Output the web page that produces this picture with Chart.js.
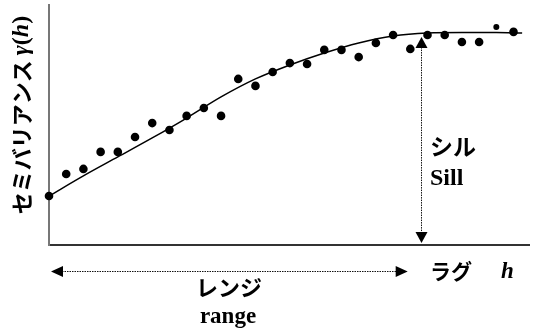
<!DOCTYPE html>
<html>
<head>
<meta charset="utf-8">
<script src="https://cdn.jsdelivr.net/npm/chart.js@4.4.0/dist/chart.umd.min.js"></script>
<style>
  html, body { margin: 0; padding: 0; background: #fff; }
  #wrap { width: 534px; height: 333px; }
</style>
</head>
<body>
<div id="wrap"><canvas id="chart" width="534" height="333"></canvas></div>
<script>
// experimental semivariogram (lag index -> semivariance)
const lags = [0, 1, 2, 3, 4, 5, 6, 7, 8, 9, 10, 11, 12, 13, 14, 15, 16, 17, 18, 19, 20, 21, 22, 23, 24, 25, 26, 27];
const gamma = [2.04, 2.96, 3.17, 3.88, 3.88, 4.5, 5.08, 4.79, 5.38, 5.71, 5.38, 6.92, 6.63, 7.21, 7.58, 7.54,
               8.13, 8.13, 7.83, 8.42, 8.75, 8.17, 8.75, 8.75, 8.46, 8.46, 9.08, 8.88];

// fitted model curve
const modelLags = [0, 2, 4, 6, 8, 10, 12, 14, 16, 18, 20, 22, 24, 26, 27.5];
const modelGamma = [2.04, 2.88, 3.67, 4.46, 5.29, 6.17, 6.92, 7.5, 8.0, 8.42, 8.71, 8.83, 8.85, 8.85, 8.83];

// annotation values
const sillValue = 8.83;
const sillLag = 21.6;
const rangeLag = 20.85;

const ctx = document.getElementById('chart').getContext('2d');

const JP = '"Noto Sans CJK JP", "Noto Sans CJK SC", sans-serif';
const SERIF = '"Liberation Serif", "DejaVu Serif", serif';

function arrowHead(c, x, y, dir, w, h) {
    // tip at (x, y)
    c.beginPath();
    if (dir === 'up') {
        c.moveTo(x, y); c.lineTo(x - w / 2, y + h); c.lineTo(x + w / 2, y + h);
    } else if (dir === 'down') {
        c.moveTo(x, y); c.lineTo(x - w / 2, y - h); c.lineTo(x + w / 2, y - h);
    } else if (dir === 'left') {
        c.moveTo(x, y); c.lineTo(x + h, y - w / 2); c.lineTo(x + h, y + w / 2);
    } else {
        c.moveTo(x, y); c.lineTo(x - h, y - w / 2); c.lineTo(x - h, y + w / 2);
    }
    c.closePath();
    c.fill();
}

function dotted(c, x1, y1, x2, y2) {
    c.save();
    c.strokeStyle = '#111';
    c.lineWidth = 1;
    c.setLineDash([1.5, 1]);
    c.beginPath();
    c.moveTo(x1, y1);
    c.lineTo(x2, y2);
    c.stroke();
    c.restore();
}

const annotations = {
    id: 'annotations',
    afterDraw(chart) {
        const c = chart.ctx;
        const xs = chart.scales.x, ys = chart.scales.y;
        const area = chart.chartArea;
        c.save();
        c.fillStyle = '#000';

        // sill arrow
        const sx = Math.round(xs.getPixelForValue(sillLag)) + 0.5;
        const sTop = ys.getPixelForValue(sillValue) + 4;
        const sBot = area.bottom - 2;
        dotted(c, sx, sTop + 10, sx, sBot - 10);
        arrowHead(c, sx, sTop, 'up', 12, 11);
        arrowHead(c, sx, sBot, 'down', 12, 11);

        // range arrow
        const ry = Math.round(area.bottom + 26) + 0.5;
        const rL = xs.getPixelForValue(0) + 2;
        const rR = xs.getPixelForValue(rangeLag);
        dotted(c, rL + 11, ry, rR - 11, ry);
        arrowHead(c, rL, ry, 'left', 11, 12);
        arrowHead(c, rR, ry, 'right', 11, 12);

        // y axis title
        c.save();
        c.translate(22, 115);
        c.rotate(-Math.PI / 2);
        c.textBaseline = 'middle';
        const parts = [
            ['セミバリアンス ', 'bold 22px ' + JP],
            ['γ', 'bold italic 24px ' + SERIF],
            ['(', 'bold 24px ' + SERIF],
            ['h', 'bold italic 24px ' + SERIF],
            [')', 'bold 24px ' + SERIF]
        ];
        let total = 0;
        parts.forEach(p => { c.font = p[1]; total += c.measureText(p[0]).width; });
        let px = -total / 2;
        parts.forEach(p => {
            c.font = p[1];
            c.textAlign = 'left';
            c.fillText(p[0], px, 0);
            px += c.measureText(p[0]).width;
        });
        c.restore();

        // sill labels
        c.textAlign = 'left';
        c.textBaseline = 'middle';
        c.font = 'bold 23px ' + JP;
        c.fillText('シル', 430, 146);
        c.textBaseline = 'alphabetic';
        c.font = 'bold 24px ' + SERIF;
        c.fillText('Sill', 430, 185);

        // lag label
        c.textBaseline = 'middle';
        c.font = 'bold 21px ' + JP;
        c.fillText('ラグ', 430, 271);
        c.font = 'bold italic 23px ' + SERIF;
        c.fillText('h', 501, 272);

        // range labels
        c.textAlign = 'center';
        c.font = 'bold 22px ' + JP;
        c.fillText('レンジ', 229, 288);
        c.textBaseline = 'alphabetic';
        c.font = 'bold 23px ' + SERIF;
        c.fillText('range', 228, 323);

        c.restore();
    }
};

new Chart(ctx, {
    type: 'scatter',
    data: {
        datasets: [
            {
                label: 'model',
                data: modelLags.map((x, i) => ({ x: x, y: modelGamma[i] })),
                showLine: true,
                borderColor: '#000',
                borderWidth: 1.5,
                pointRadius: 0,
                cubicInterpolationMode: 'monotone',
                clip: false
            },
            {
                label: 'experimental',
                data: lags.map((x, i) => ({ x: x, y: gamma[i] })),
                backgroundColor: '#000',
                borderWidth: 0,
                pointRadius: lags.map(i => (i === 26 ? 3 : 4.3)),
                clip: false
            }
        ]
    },
    options: {
        responsive: false,
        animation: false,
        layout: { padding: { left: 49, top: 5, right: 0, bottom: 88 } },
        plugins: {
            legend: { display: false },
            tooltip: { enabled: false }
        },
        scales: {
            x: {
                type: 'linear',
                min: 0,
                max: 27.94,
                ticks: { display: false },
                grid: { display: false, drawTicks: false },
                border: { display: true, color: '#333', width: 2 }
            },
            y: {
                min: 0,
                max: 10,
                ticks: { display: false },
                grid: { display: false, drawTicks: false },
                border: { display: true, color: '#777', width: 2 }
            }
        }
    },
    plugins: [annotations]
});
</script>
</body>
</html>
